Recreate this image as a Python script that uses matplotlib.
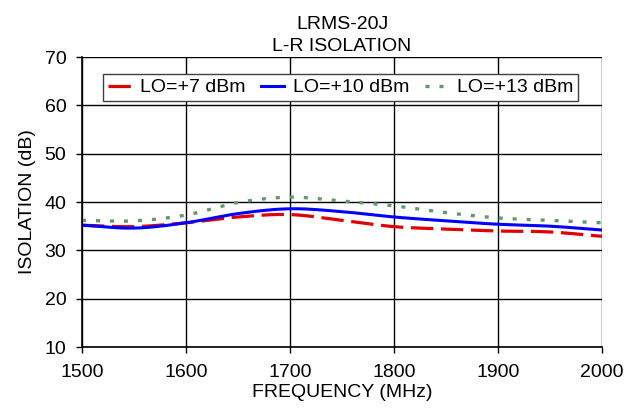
import matplotlib
matplotlib.use("Agg")
import matplotlib.pyplot as plt
import numpy as np

plt.rcParams['font.family'] = ['Liberation Sans', 'DejaVu Sans']

freq = [1500, 1550, 1600, 1650, 1700, 1750, 1800, 1850, 1900, 1950, 2000]
lo7 = [35.2, 34.9, 35.7, 36.9, 37.4, 36.2, 34.9, 34.4, 34.0, 33.8, 32.9]
lo10 = [35.2, 34.6, 35.7, 37.6, 38.6, 38.0, 36.9, 36.1, 35.4, 35.0, 34.2]
lo13 = [36.2, 36.1, 37.3, 39.9, 41.0, 40.2, 39.2, 37.8, 36.7, 36.2, 35.7]
labels = ['LO=+7 dBm', 'LO=+10 dBm', 'LO=+13 dBm']
xticks = [1500, 1600, 1700, 1800, 1900, 2000]
yticks = [10, 20, 30, 40, 50, 60, 70]

def smooth(x, y, n=200):
    x = np.asarray(x, float); y = np.asarray(y, float)
    xs = np.linspace(x[0], x[-1], n)
    out = []
    for xv in xs:
        i = min(np.searchsorted(x, xv, side='right') - 1, len(x) - 2)
        t = (xv - x[i]) / (x[i+1] - x[i])
        p0 = y[i-1] if i > 0 else 2*y[i] - y[i+1]
        p1, p2 = y[i], y[i+1]
        p3 = y[i+2] if i + 2 < len(y) else 2*y[i+1] - y[i]
        out.append(0.5*((2*p1) + (-p0+p2)*t + (2*p0-5*p1+4*p2-p3)*t**2 + (-p0+3*p1-3*p2+p3)*t**3))
    return xs, np.array(out)

W, H = 639, 415
fig = plt.figure(figsize=(W/100, H/100), dpi=100)
ax = fig.add_axes([82/W, 1-347/H, (602-82)/W, (347-57)/H])

x, y = smooth(freq, lo7)
ax.plot(x, y, color='#e00000', lw=2.3, linestyle=(0, (7, 2.4)), label=labels[0])
x, y = smooth(freq, lo10)
ax.plot(x, y, color='#0000ff', lw=2.2, label=labels[1])
x, y = smooth(freq, lo13)
ax.plot(x, y, color='#5f9a68', lw=2.4, linestyle=(0, (1.2, 3)), label=labels[2])

ax.set_xlim(1500, 2000)
ax.set_ylim(10, 70)
ax.set_xticks(xticks)
ax.set_yticks(yticks)
ax.grid(True, color='black', lw=1)
for s in ['top', 'right']:
    ax.spines[s].set_visible(False)
ax.spines['left'].set_linewidth(1.2)
ax.spines['bottom'].set_linewidth(1.2)
ax.tick_params(labelsize=14, length=4.3, direction='out', width=1)
ax.tick_params(axis='x', pad=8)
ax.tick_params(axis='y', pad=7)
ax.set_xlabel('FREQUENCY (MHz)', fontsize=14, labelpad=2)
ax.set_ylabel('ISOLATION (dB)', fontsize=14, labelpad=6)
ax.set_title('LRMS-20J\nL-R ISOLATION', fontsize=14, pad=4, linespacing=1.4)

leg = ax.legend(loc='upper center', bbox_to_anchor=(0.497, 1 - 17/290), ncol=3, fontsize=14,
                frameon=True, fancybox=False, edgecolor='#404040', framealpha=1,
                handlelength=1.2, handletextpad=0.45, columnspacing=0.8, borderpad=0.25,
                borderaxespad=0.0)
leg.get_frame().set_linewidth(1)

fig.savefig('out.png', dpi=100)
